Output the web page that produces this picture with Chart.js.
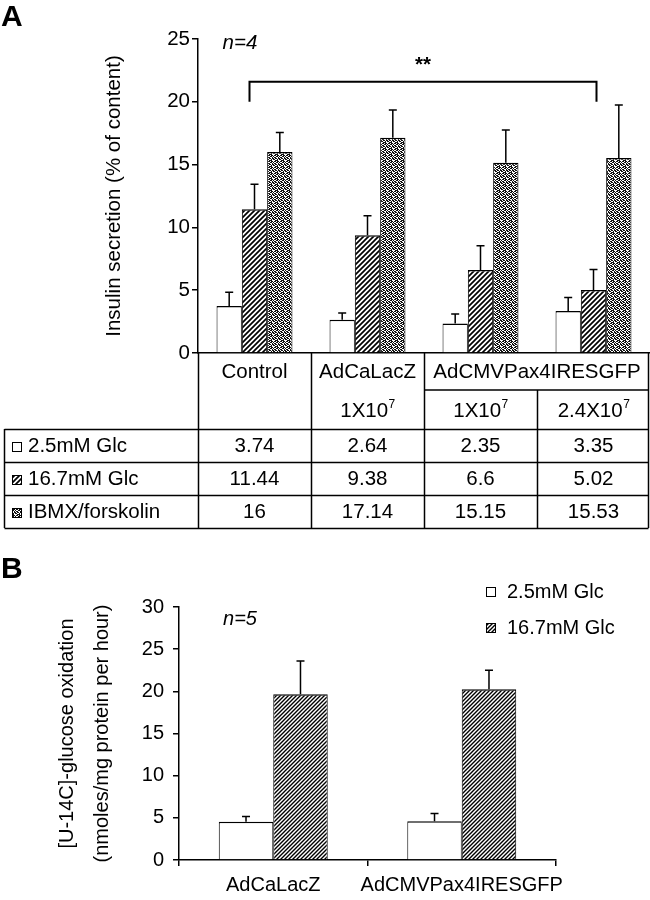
<!DOCTYPE html>
<html><head><meta charset="utf-8">
<script src="https://cdn.jsdelivr.net/npm/chart.js@4.4.0/dist/chart.umd.min.js"></script>
<style>
html,body{margin:0;padding:0;background:#fff;width:650px;height:900px;overflow:hidden}
#wa{position:absolute;left:0;top:0;width:650px;height:540px}
#wb{position:absolute;left:0;top:540px;width:650px;height:360px}
canvas{display:block}
</style></head><body>
<div id="wa"><canvas id="ca" width="650" height="540" style="width:650px;height:540px"></canvas></div>
<div id="wb"><canvas id="cb" width="650" height="360" style="width:650px;height:360px"></canvas></div>
<script>
// ---------- Panel A data ----------
const categoriesA = ['Control', 'AdCaLacZ 1X10^7', 'AdCMVPax4IRESGFP 1X10^7', 'AdCMVPax4IRESGFP 2.4X10^7'];
const headerTopA = ['Control', 'AdCaLacZ', 'AdCMVPax4IRESGFP'];
const headerSpanA = [1, 1, 2];
const doseBaseA = ['', '1X10', '1X10', '2.4X10'];
const doseExpA = ['', '7', '7', '7'];
const seriesNamesA = ['2.5mM Glc', '16.7mM Glc', 'IBMX/forskolin'];
const glc25A = [3.74, 2.64, 2.35, 3.35];
const glc167A = [11.44, 9.38, 6.6, 5.02];
const ibmxA = [16, 17.14, 15.15, 15.53];
const errGlc25A = [1.1, 0.55, 0.76, 1.06];
const errGlc167A = [2.0, 1.54, 1.93, 1.62];
const errIbmxA = [1.56, 2.2, 2.6, 4.21];
const yTicksA = [0, 5, 10, 15, 20, 25];
const yTitleA = 'Insulin secretion (% of content)';

// ---------- Panel B data ----------
const categoriesB = ['AdCaLacZ', 'AdCMVPax4IRESGFP'];
const seriesNamesB = ['2.5mM Glc', '16.7mM Glc'];
const glc25B = [4.55, 4.6];
const glc167B = [19.65, 20.25];
const errGlc25B = [0.6, 0.9];
const errGlc167B = [3.95, 2.25];
const yTicksB = [0, 5, 10, 15, 20, 25, 30];
const yTitleB = ['[U-14C]-glucose oxidation', '(nmoles/mg protein per hour)'];

// ---------- styling helpers ----------
const FF = "'Liberation Sans', Arial, Helvetica, sans-serif";
const FS = 20.5;
const FSB = 20;

function hatchPattern(s, lw) {
  const c = document.createElement('canvas'); c.width = s; c.height = s;
  const g = c.getContext('2d');
  g.fillStyle = '#fff'; g.fillRect(0, 0, s, s);
  g.strokeStyle = '#000'; g.lineWidth = lw;
  g.beginPath();
  g.moveTo(-1, s + 1); g.lineTo(s + 1, -1);
  g.moveTo(-1, 1); g.lineTo(1, -1);
  g.moveTo(s - 1, s + 1); g.lineTo(s + 1, s - 1);
  g.stroke();
  return g.createPattern(c, 'repeat');
}
const stippleRows = ['110100', '001011', '101101', '010110', '110001', '011011'];
function stipplePattern() {
  const n = stippleRows.length;
  const c = document.createElement('canvas'); c.width = n; c.height = n;
  const g = c.getContext('2d');
  g.fillStyle = '#fff'; g.fillRect(0, 0, n, n);
  g.fillStyle = '#111';
  stippleRows.forEach((row, r) => { for (let k = 0; k < row.length; k++) if (row[k] === '1') g.fillRect(k, r, 1, 1); });
  return g.createPattern(c, 'repeat');
}
const hatchA = hatchPattern(5, 1.7);
const hatchB = hatchPattern(4, 1.4);
const dots = stipplePattern();
const fillsA = ['#ffffff', hatchA, dots];
const fillsB = ['#ffffff', hatchB];

function drawSup(ctx, base, exp, cx, cy) {
  ctx.font = `${FS}px ${FF}`; const wb = ctx.measureText(base).width;
  ctx.font = `12px ${FF}`; const we = ctx.measureText(exp).width;
  const x0 = cx - (wb + we) / 2;
  ctx.textAlign = 'left'; ctx.textBaseline = 'middle';
  ctx.font = `${FS}px ${FF}`; ctx.fillText(base, x0, cy);
  ctx.font = `12px ${FF}`; ctx.fillText(exp, x0 + wb + 0.5, cy - 7);
}
function legendBox(ctx, fill, x, y, s) {
  ctx.fillStyle = fill; ctx.fillRect(x, y, s, s);
  ctx.strokeStyle = '#000'; ctx.lineWidth = 1; ctx.strokeRect(x + 0.5, y + 0.5, s - 1, s - 1);
}

const errorBars = {
  id: 'errorBars',
  afterDatasetsDraw(chart) {
    const { ctx } = chart; const ys = chart.scales.y;
    chart.data.datasets.forEach((ds, i) => {
      const meta = chart.getDatasetMeta(i);
      meta.data.forEach((bar, j) => {
        const top = ys.getPixelForValue(ds.data[j] + ds.errors[j]);
        ctx.save(); ctx.strokeStyle = '#000'; ctx.lineWidth = 1.5;
        ctx.beginPath();
        ctx.moveTo(bar.x, bar.y); ctx.lineTo(bar.x, top);
        ctx.moveTo(bar.x - 4, top); ctx.lineTo(bar.x + 4, top);
        ctx.stroke(); ctx.restore();
      });
    });
  }
};

const annotA = {
  id: 'annotA',
  afterDraw(chart, args, o) {
    const { ctx } = chart; const ys = chart.scales.y;
    ctx.save();
    ctx.fillStyle = '#000';
    ctx.font = `bold 30px ${FF}`; ctx.textAlign = 'left'; ctx.textBaseline = 'alphabetic';
    ctx.fillText(o.panel, 1, 26);
    ctx.font = `italic ${FS}px ${FF}`; ctx.textAlign = 'center'; ctx.textBaseline = 'middle';
    ctx.fillText(o.nText, 240, 43);
    const m = chart.getDatasetMeta(o.bracketDataset);
    const xl = m.data[o.bracketFrom].x - 5, xr = m.data[o.bracketTo].x + 3;
    const yt = ys.getPixelForValue(o.bracketTop), yb = ys.getPixelForValue(o.bracketBottom);
    ctx.strokeStyle = '#000'; ctx.lineWidth = 2;
    ctx.beginPath(); ctx.moveTo(xl, yb); ctx.lineTo(xl, yt); ctx.lineTo(xr, yt); ctx.lineTo(xr, yb); ctx.stroke();
    ctx.font = `bold ${FS}px ${FF}`;
    ctx.fillText(o.sigText, (xl + xr) / 2, ys.getPixelForValue(o.sigAt));
    // table below the axis
    const xs = chart.scales.x; const ca = chart.chartArea;
    const n = xs.ticks.length; const w = (xs.right - xs.left) / n;
    const bx = i => Math.round(xs.left + i * w) + 0.5;
    const R = chart.width - 1.5, L = 4.5;
    const y0 = ca.bottom, y1 = y0 + 37, y2 = y1 + 39, rh = 33;
    const yEnd = y2 + rh * seriesNamesA.length;
    ctx.lineWidth = 1.5; ctx.beginPath();
    ctx.moveTo(bx(0), y0); ctx.lineTo(bx(0), yEnd);
    ctx.moveTo(bx(1), y0); ctx.lineTo(bx(1), yEnd);
    ctx.moveTo(bx(2), y0); ctx.lineTo(bx(2), yEnd);
    ctx.moveTo(bx(3), y1); ctx.lineTo(bx(3), yEnd);
    ctx.moveTo(R, y0); ctx.lineTo(R, yEnd);
    ctx.moveTo(L, y2); ctx.lineTo(L, yEnd);
    ctx.moveTo(bx(2), y1); ctx.lineTo(R, y1);
    for (let r = 0; r <= seriesNamesA.length; r++) { const yy = Math.round(y2 + r * rh) + 0.5; ctx.moveTo(L, yy); ctx.lineTo(R, yy); }
    ctx.stroke();
    ctx.font = `${FS}px ${FF}`; ctx.textAlign = 'center'; ctx.textBaseline = 'middle'; ctx.fillStyle = '#000';
    let col = 0;
    headerTopA.forEach((t, k) => {
      const x1 = xs.left + col * w, x2 = xs.left + (col + headerSpanA[k]) * w;
      ctx.fillText(t, (x1 + x2) / 2, y0 + 19);
      col += headerSpanA[k];
    });
    doseBaseA.forEach((b, k) => { if (b) drawSup(ctx, b, doseExpA[k], xs.left + (k + 0.5) * w, (y1 + y2) / 2 + 2); });
    chart.data.datasets.forEach((ds, r) => {
      const cy = y2 + r * rh + rh / 2 + 1;
      legendBox(ctx, fillsA[r], 12, Math.round(cy - 5), 10);
      ctx.fillStyle = '#000'; ctx.font = `${FS}px ${FF}`; ctx.textAlign = 'left'; ctx.textBaseline = 'middle';
      ctx.fillText(seriesNamesA[r], 28, cy);
      ctx.textAlign = 'center';
      ds.data.forEach((v, k) => ctx.fillText(String(v), xs.left + (k + 0.5) * w, cy));
    });
    ctx.restore();
  }
};

const annotB = {
  id: 'annotB',
  afterDraw(chart, args, o) {
    const { ctx } = chart;
    ctx.save(); ctx.fillStyle = '#000';
    ctx.font = `bold 30px ${FF}`; ctx.textAlign = 'left'; ctx.textBaseline = 'alphabetic';
    ctx.fillText(o.panel, 1, 38);
    ctx.font = `italic ${FSB}px ${FF}`; ctx.textAlign = 'center'; ctx.textBaseline = 'middle';
    ctx.fillText(o.nText, 240, 79);
    seriesNamesB.forEach((t, k) => {
      const cy = 52 + k * 36;
      legendBox(ctx, fillsB[k], 486, cy - 5, 10);
      ctx.fillStyle = '#000'; ctx.font = `${FSB}px ${FF}`; ctx.textAlign = 'left'; ctx.textBaseline = 'middle';
      ctx.fillText(t, 507, cy);
    });
    ctx.restore();
  }
};

const common = {
  responsive: false, animation: false, devicePixelRatio: 1,
  plugins: { legend: { display: false }, tooltip: { enabled: false } }
};

new Chart(document.getElementById('ca'), {
  type: 'bar',
  data: {
    labels: categoriesA,
    datasets: [
      { label: seriesNamesA[0], data: glc25A, errors: errGlc25A, backgroundColor: fillsA[0] },
      { label: seriesNamesA[1], data: glc167A, errors: errGlc167A, backgroundColor: fillsA[1] },
      { label: seriesNamesA[2], data: ibmxA, errors: errIbmxA, backgroundColor: fillsA[2] }
    ].map(d => Object.assign(d, { borderColor: '#000', borderWidth: { top: 1.5, left: 1, right: 1, bottom: 0 }, borderSkipped: false, categoryPercentage: 0.672, barPercentage: 1 }))
  },
  options: Object.assign({}, common, {
    layout: { padding: { left: 102, top: 39, right: 0, bottom: 0 } },
    plugins: Object.assign({}, common.plugins, {
      annotA: { panel: 'A', nText: 'n=4', sigText: '**', bracketDataset: 1, bracketFrom: 0, bracketTo: 3, bracketTop: 21.6, bracketBottom: 20, sigAt: 22.9 }
    }),
    scales: {
      x: { ticks: { display: false }, grid: { display: false }, border: { display: true, color: '#000', width: 1.5 },
           afterFit(s) { s.height = 187; } },
      y: { min: 0, max: 25,
           afterBuildTicks(s) { s.ticks = yTicksA.map(v => ({ value: v })); },
           ticks: { color: '#000', font: { family: FF, size: FS }, padding: 2 },
           grid: { display: true, drawOnChartArea: false, drawTicks: true, tickLength: 6, color: '#000', lineWidth: 1.5 },
           border: { display: true, color: '#000', width: 1.5 },
           title: { display: true, text: yTitleA, color: '#000', font: { family: FF, size: FS }, padding: 0 },
           afterFit(s) { s.width = 96; } }
    }
  }),
  plugins: [errorBars, annotA]
});

new Chart(document.getElementById('cb'), {
  type: 'bar',
  data: {
    labels: categoriesB,
    datasets: [
      { label: seriesNamesB[0], data: glc25B, errors: errGlc25B, backgroundColor: fillsB[0] },
      { label: seriesNamesB[1], data: glc167B, errors: errGlc167B, backgroundColor: fillsB[1] }
    ].map(d => Object.assign(d, { borderColor: '#000', borderWidth: { top: 1.5, left: 1, right: 1, bottom: 0 }, borderSkipped: false, categoryPercentage: 0.578, barPercentage: 1 }))
  },
  options: Object.assign({}, common, {
    layout: { padding: { left: 50, top: 67, right: 94, bottom: 0 } },
    plugins: Object.assign({}, common.plugins, { annotB: { panel: 'B', nText: 'n=5' } }),
    scales: {
      x: { ticks: { color: '#000', font: { family: FF, size: FSB }, padding: 7, autoSkip: false, maxRotation: 0, minRotation: 0 },
           grid: { display: true, drawOnChartArea: false, drawTicks: true, tickLength: 6, offset: true, color: '#000', lineWidth: 1.5 },
           border: { display: true, color: '#000', width: 1.5 },
           afterFit(s) { s.height = 40; } },
      y: { min: 0, max: 30,
           afterBuildTicks(s) { s.ticks = yTicksB.map(v => ({ value: v })); },
           ticks: { color: '#000', font: { family: FF, size: FSB }, padding: 9 },
           grid: { display: true, drawOnChartArea: false, drawTicks: true, tickLength: 6, color: '#000', lineWidth: 1.5 },
           border: { display: true, color: '#000', width: 1.5 },
           title: { display: true, text: yTitleB, color: '#000', font: { family: FF, size: FSB, lineHeight: 1.75 }, padding: 0 },
           afterFit(s) { s.width = 129; } }
    }
  }),
  plugins: [errorBars, annotB]
});
</script>
</body></html>
